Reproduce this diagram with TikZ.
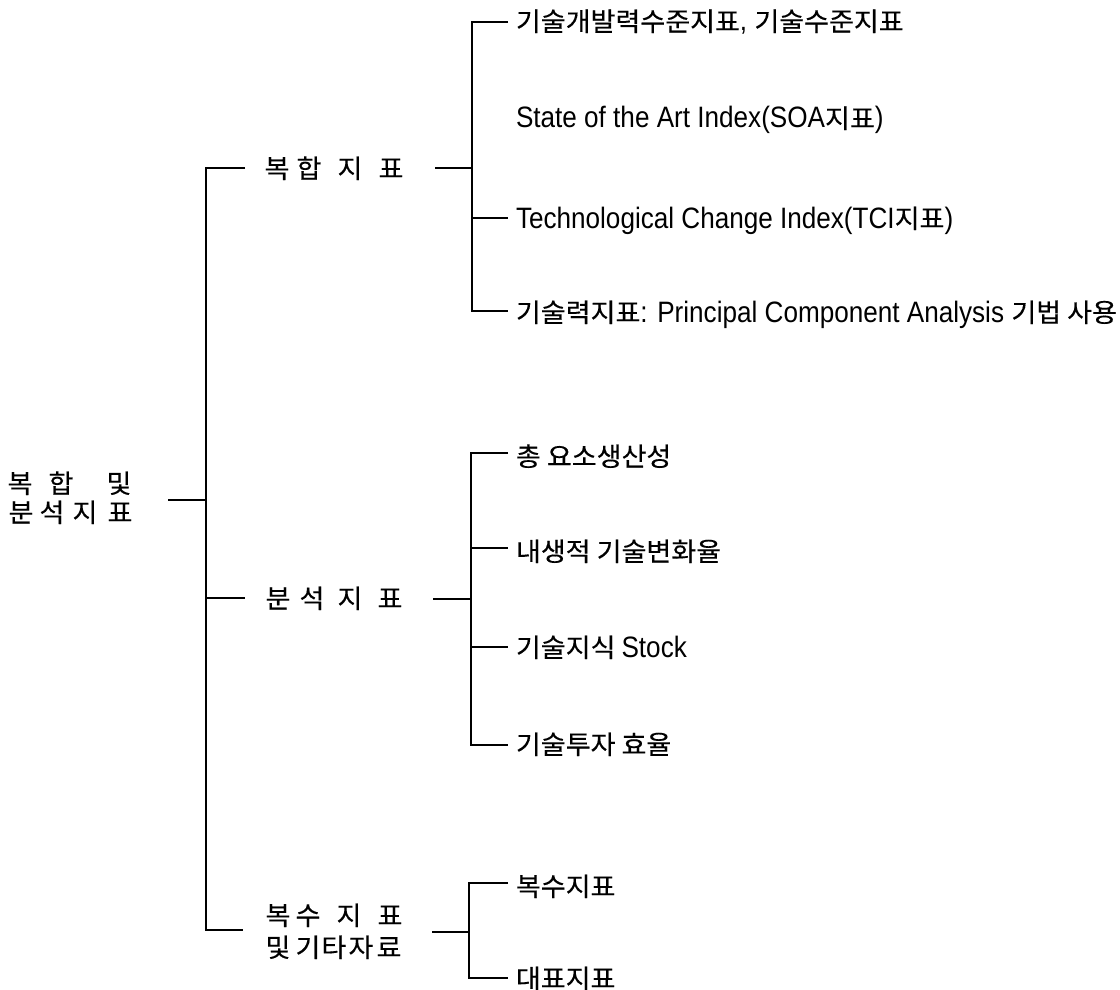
\documentclass[tikz,border=0pt]{standalone}
\usepackage{fontspec}
\newfontfamily\kr{Noto Sans CJK KR}[FakeStretch=1.04,FakeBold=0.3]
\newfontfamily\lat{Liberation Sans}[FakeStretch=0.885]
\newcommand\krfont{\kr\fontsize{26}{29}\selectfont}
\newcommand\latfont{\lat\fontsize{29.5}{29}\selectfont}
% two stacked lines whose baseline is the first line
\newcommand\twolines[3]{\vtop{\baselineskip=#1\lineskiplimit=-\maxdimen\hbox{#2}\hbox{#3}}}
% a syllable centred a given distance after the previous one
\newcommand\syl[2]{\hspace{#1}\makebox[0pt]{#2}}

\begin{document}
\begin{tikzpicture}[x=1pt,y=-1pt,
  line width=1.3pt,
  every node/.style={inner sep=0pt,outer sep=0pt},
  lbl/.style={anchor=base west,font=\krfont}]
\useasboundingbox (0,0) rectangle (1120,990);

% ---- labels (spaced-out titles: syllable centres) ----
\node[lbl] (root) at (20,493) {\twolines{29pt}%
  {\syl{0pt}{복}\syl{41pt}{합}\syl{58pt}{및}}%
  {\syl{1pt}{분}\syl{31pt}{석}\syl{33pt}{지}\syl{35pt}{표}}};

\node[lbl] (A) at (277,178) {\syl{0pt}{복}\syl{32pt}{합}\syl{41pt}{지}\syl{41pt}{표}};
\node[lbl] (B) at (278,608) {\syl{0pt}{분}\syl{34pt}{석}\syl{38pt}{지}\syl{40pt}{표}};
\node[lbl] (C) at (278,925) {\twolines{32pt}%
  {\syl{0pt}{복}\syl{30pt}{수}\syl{41pt}{지}\syl{41pt}{표}}%
  {\syl{0pt}{및}\syl{30pt}{기}\syl{26pt}{타}\syl{27pt}{자}\syl{28pt}{료}}};

% ---- leaf labels ----
\node[lbl] (a1) at (516,31)  {기술개발력수준지표{\latfont, }기술수준지표};
\node[lbl] (a2) at (516,128) {{\latfont State of the Art Index(SOA}지표{\latfont )}};
\node[lbl] (a3) at (516,228) {{\latfont Technological Change Index(TCI}지표{\latfont )}};
\node[lbl] (a4) at (516,322) {기술력지표{\latfont : Principal Component Analysis }기법 사용};

\node[lbl] (b1) at (516,466) {총 요소생산성};
\node[lbl] (b2) at (516,561) {내생적 기술변화율};
\node[lbl] (b3) at (516,657) {기술지식 {\latfont Stock}};
\node[lbl] (b4) at (516,754) {기술투자 효율};

\node[lbl] (c1) at (516,896) {복수지표};
\node[lbl] (c2) at (516,988) {대표지표};

% ---- root bracket ----
\coordinate (rootOut) at (168,500);
\coordinate (rootJ)   at (206,500);
\coordinate (spTop)   at (206,168);
\coordinate (spMid)   at (206,598);
\coordinate (spBot)   at (206,930);
\coordinate (AIn)     at (245,168);
\coordinate (BIn)     at (245,598);
\coordinate (CIn)     at (243,930);
\draw (rootOut) -- (rootJ);
\draw (AIn) -- (spTop) -- (spBot) -- (CIn);
\draw (spMid) -- (BIn);

% ---- composite index branch ----
\coordinate (AOut) at (435,168);
\coordinate (AJ)   at (472,168);
\coordinate (Ata)  at (472,22);
\coordinate (Atc)  at (472,218);
\coordinate (Atd)  at (472,311);
\coordinate (a1s)  at (508,22);
\coordinate (a3s)  at (508,218);
\coordinate (a4s)  at (508,311);
\draw (AOut) -- (AJ);
\draw (a1s) -- (Ata) -- (Atd) -- (a4s);
\draw (Atc) -- (a3s);

% ---- analytic index branch ----
\coordinate (BOut) at (433,599);
\coordinate (BJ)   at (471,599);
\coordinate (Bta)  at (471,453);
\coordinate (Btb)  at (471,548);
\coordinate (Btc)  at (471,647);
\coordinate (Btd)  at (471,745);
\coordinate (b1s)  at (508,453);
\coordinate (b2s)  at (508,548);
\coordinate (b3s)  at (508,647);
\coordinate (b4s)  at (508,745);
\draw (BOut) -- (BJ);
\draw (b1s) -- (Bta) -- (Btd) -- (b4s);
\draw (Btb) -- (b2s);
\draw (Btc) -- (b3s);

% ---- multiple index branch ----
\coordinate (COut) at (432,932);
\coordinate (CJ)   at (469,932);
\coordinate (Cta)  at (469,883);
\coordinate (Ctb)  at (469,978);
\coordinate (c1s)  at (508,883);
\coordinate (c2s)  at (508,978);
\draw (COut) -- (CJ);
\draw (c1s) -- (Cta) -- (Ctb) -- (c2s);
\end{tikzpicture}
\end{document}
